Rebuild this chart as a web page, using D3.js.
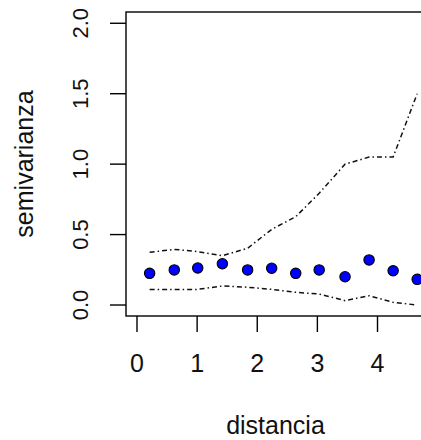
<!doctype html>
<html>
<head>
  <meta charset="utf-8">
  <title>Semivariograma</title>
  <script src="https://d3js.org/d3.v7.min.js"></script>
  <style>
    body { margin:0; background:#fff; overflow:hidden; }
    svg { display:block; font-family:"Liberation Sans", Arial, sans-serif; }
    .box { fill:none; stroke:#000; stroke-width:1.4; }
    .tick { stroke:#000; stroke-width:1.4; }
    .env { fill:none; stroke:#111; stroke-width:1.5; stroke-dasharray:5,3,1.5,3; }
    .pt { fill:#0000ff; stroke:#000; stroke-width:1.1; }
    .lab { fill:#111; }
  </style>
</head>
<body>
  <svg id="chart" width="421" height="440"></svg>
  <script>
    // semivariograma empirico + envolvente
    const dist     = [0.21, 0.62, 1.01, 1.42, 1.84, 2.24, 2.64, 3.03, 3.46, 3.86, 4.26, 4.66];
    const semiv    = [0.225, 0.249, 0.263, 0.293, 0.249, 0.261, 0.225, 0.249, 0.201, 0.320, 0.243, 0.182];
    const envUpper = [0.374, 0.395, 0.379, 0.350, 0.403, 0.537, 0.627, 0.793, 1.0, 1.05, 1.05, 1.50];
    const envLower = [0.111, 0.111, 0.111, 0.135, 0.126, 0.111, 0.090, 0.078, 0.031, 0.066, 0.019, 0.0];
    const xTicks   = [0, 1, 2, 3, 4];
    const yTicks   = [0, 0.5, 1.0, 1.5, 2.0];

    const svg = d3.select("#chart");
    const plotL = 126, plotR = 425, plotT = 12, plotB = 316;

    const x = d3.scaleLinear().domain([-0.183, 4.79]).range([plotL, plotR]);
    const y = d3.scaleLinear().domain([-0.078, 2.08]).range([plotB, plotT]);

    // envelopes
    const line = d3.line().x(d => x(d[0])).y(d => y(d[1]));
    svg.append("path").attr("class","env").attr("d", line(d3.zip(dist, envUpper)));
    svg.append("path").attr("class","env").attr("d", line(d3.zip(dist, envLower)));

    // points
    svg.selectAll("circle.pt")
      .data(d3.zip(dist, semiv))
      .enter().append("circle")
      .attr("class","pt")
      .attr("cx", d => x(d[0]))
      .attr("cy", d => y(d[1]))
      .attr("r", 5.2);

    // box
    svg.append("rect").attr("class","box")
      .attr("x", plotL).attr("y", plotT)
      .attr("width", plotR-plotL).attr("height", plotB-plotT);

    // x axis
    svg.selectAll("line.xt").data(xTicks).enter().append("line")
      .attr("class","tick")
      .attr("x1", d => x(d)).attr("x2", d => x(d))
      .attr("y1", plotB).attr("y2", plotB+16);
    svg.selectAll("text.xl").data(xTicks).enter().append("text")
      .attr("class","lab")
      .attr("x", d => x(d)).attr("y", 372)
      .attr("text-anchor","middle")
      .attr("font-size", 25)
      .text(d => d);

    // y axis
    svg.selectAll("line.yt").data(yTicks).enter().append("line")
      .attr("class","tick")
      .attr("x1", plotL-16).attr("x2", plotL)
      .attr("y1", d => y(d)).attr("y2", d => y(d));
    svg.selectAll("text.yl").data(yTicks).enter().append("text")
      .attr("class","lab")
      .attr("transform", d => `translate(88,${y(d)}) rotate(-90)`)
      .attr("text-anchor","middle")
      .attr("font-size", 22)
      .text(d => d.toFixed(1));

    // titles
    svg.append("text").attr("class","lab")
      .attr("x", (plotL+plotR)/2).attr("y", 434)
      .attr("text-anchor","middle").attr("font-size", 25)
      .text("distancia");
    svg.append("text").attr("class","lab")
      .attr("transform", `translate(33,${(plotT+plotB)/2}) rotate(-90)`)
      .attr("text-anchor","middle").attr("font-size", 25)
      .text("semivarianza");
  </script>
</body>
</html>
